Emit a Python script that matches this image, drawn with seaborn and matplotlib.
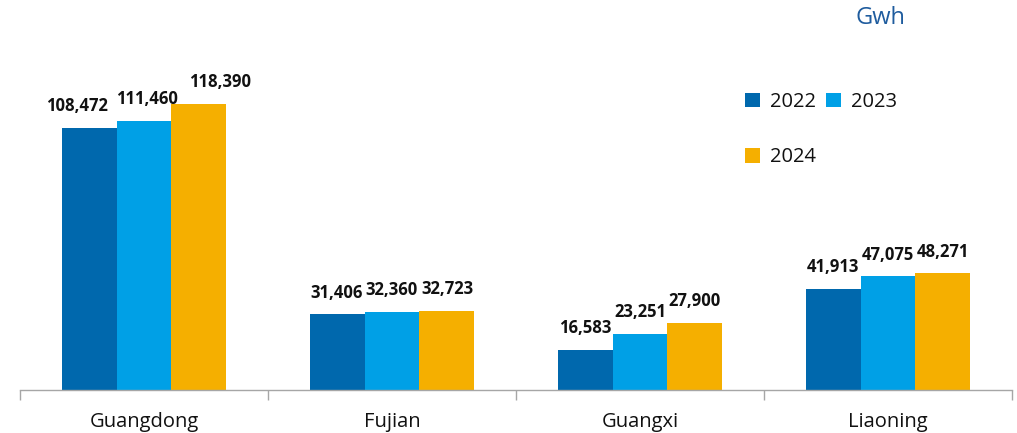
import matplotlib
matplotlib.use("Agg")
import matplotlib.pyplot as plt
from matplotlib.patches import Patch
from matplotlib.ticker import FixedLocator
import seaborn as sns
import pandas as pd

# Electricity consumption by province, Gwh
provinces = ["Guangdong", "Fujian", "Guangxi", "Liaoning"]
years = ["2022", "2023", "2024"]
values_2022 = [108472, 31406, 16583, 41913]
values_2023 = [111460, 32360, 23251, 47075]
values_2024 = [118390, 32723, 27900, 48271]

colors = ["#0068AD", "#00A0E6", "#F5AF00"]

df = pd.DataFrame({
    "province": provinces * 3,
    "year": [y for y in years for _ in provinces],
    "value": values_2022 + values_2023 + values_2024,
})

sns.set_theme(style="white")
plt.rcParams["font.family"] = ["Open Sans", "DejaVu Sans"]

fig = plt.figure(figsize=(10.17, 4.33), dpi=100)
ax = fig.add_axes([20 / 1017, 43 / 433, 992 / 1017, 350 / 433])

sns.barplot(data=df, x="province", y="value", hue="year", order=provinces,
            hue_order=years, palette=colors, width=0.665, gap=0,
            saturation=1, errorbar=None, legend=False, linewidth=0, ax=ax)

ax.set_xlim(-0.5, len(provinces) - 0.5)
ax.set_ylim(0, 118390 * 350 / 286)

# value labels above each bar (nudged apart where the tallest group crowds)
nudges = {(0, 0): -9, (0, 1): 2, (0, 2): 15}
for hi, container in enumerate(ax.containers):
    for ci, bar in enumerate(container):
        h = bar.get_height()
        x = bar.get_x() + bar.get_width() / 2
        ax.annotate(f"{h:,.0f}", (x, h), xytext=(nudges.get((ci, hi), 0), 9),
                    textcoords="offset points", ha="center", va="bottom",
                    fontsize=12, fontweight="bold", color="#111111")

for s in ["top", "right", "left"]:
    ax.spines[s].set_visible(False)
ax.spines["bottom"].set_color("#A6A6A6")
ax.spines["bottom"].set_linewidth(1.0)

ax.set_yticks([])
ax.set_xlabel("")
ax.set_ylabel("")
ax.set_xticks(range(len(provinces)))
ax.set_xticklabels(provinces, fontsize=14.5, color="#111111")
ax.tick_params(axis="x", which="major", length=0, pad=16)
ax.xaxis.set_minor_locator(FixedLocator([i - 0.5 for i in range(len(provinces) + 1)]))
ax.tick_params(axis="x", which="minor", length=7, width=1.0, color="#A6A6A6",
               direction="out", bottom=True)

# legend laid out row by row: 2022, 2023 / 2024
handles = [Patch(facecolor=c, edgecolor="none") for c in colors]
order = [0, 2, 1]
fig.legend([handles[i] for i in order], [years[i] for i in order],
           loc="upper left", bbox_to_anchor=(735 / 1017, 1 - 82 / 433),
           ncol=2, frameon=False, fontsize=14.5, handlelength=0.75, handleheight=0.75,
           handletextpad=0.5, columnspacing=0.5, labelspacing=1.75, borderpad=0,
           labelcolor="#111111")

fig.text(880 / 1017, 1 - 18 / 433, "Gwh", ha="center", va="center",
         fontsize=17, color="#1F5C9E")

fig.savefig("out.png", dpi=100, facecolor="white")
